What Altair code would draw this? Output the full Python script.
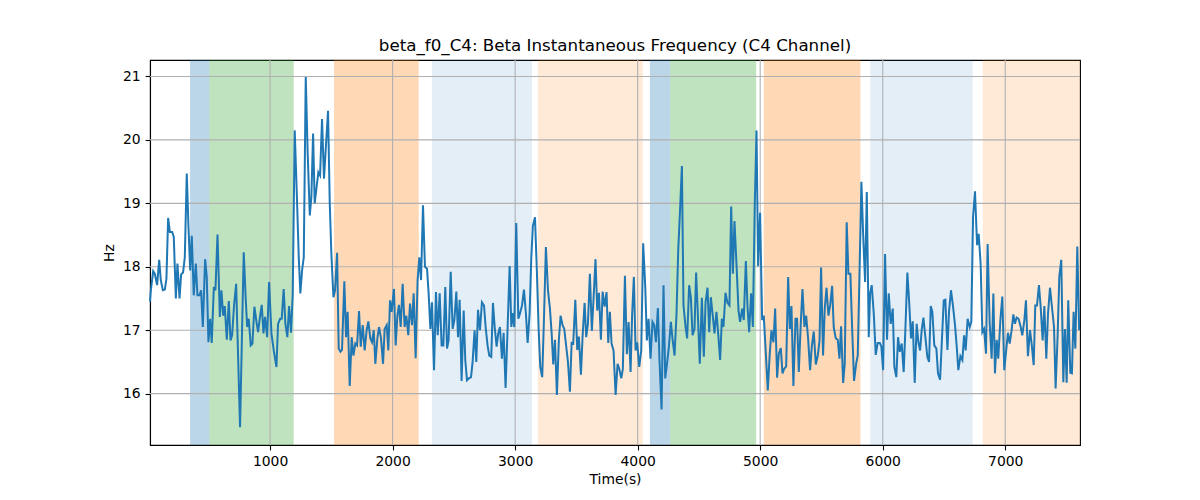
import altair as alt
import pandas as pd

# ---- line data: (time in s, frequency in Hz) ----
seg_a = [(20, 17.45), (27, 17.63), (46, 17.93), (59, 17.89), (78, 17.71), (95, 18.11), (108, 17.79), (125, 17.63),
         (141, 17.64), (154, 17.81), (168, 18.77), (182, 18.55), (201, 18.55), (214, 18.47), (231, 17.50), (244, 18.05),
         (261, 17.50), (274, 17.88), (290, 17.91), (304, 18.15), (320, 19.47), (334, 18.63), (348, 17.94), (361, 18.49),
         (377, 17.55), (394, 18.05), (407, 17.55), (424, 17.55), (437, 17.63), (451, 17.05), (470, 18.12), (483, 17.84),
         (497, 16.81), (511, 17.18), (524, 16.80), (541, 17.68), (554, 17.63), (571, 18.51), (590, 17.21), (603, 17.63),
         (617, 17.23), (630, 17.38), (647, 16.85), (663, 17.46), (677, 16.84), (690, 16.92), (706, 17.39), (723, 17.73),
         (739, 16.58), (755, 15.47), (772, 17.05), (785, 18.23), (799, 17.58), (813, 17.05), (826, 17.18), (842, 16.76),
         (856, 16.79), (872, 17.37), (889, 17.13), (902, 16.97), (919, 17.23), (932, 17.40), (946, 16.95), (959, 17.21),
         (976, 16.89), (992, 17.76)]
seg_b = [(1011, 16.95), (1030, 16.68), (1052, 16.42), (1065, 17.10), (1082, 17.18), (1095, 17.18), (1111, 17.65),
         (1125, 17.10), (1141, 16.89), (1155, 17.38), (1171, 16.96), (1185, 17.58), (1201, 20.15), (1218, 19.16),
         (1234, 18.15), (1247, 17.58), (1261, 17.94), (1275, 18.15), (1291, 20.99), (1307, 19.78), (1324, 18.81),
         (1337, 19.10), (1351, 20.10), (1364, 19.00), (1381, 19.28), (1394, 19.49), (1408, 19.44), (1424, 20.33),
         (1440, 19.39), (1457, 19.94), (1473, 20.46), (1487, 19.00), (1500, 18.21), (1517, 17.52), (1530, 17.63),
         (1547, 18.22), (1560, 16.71), (1574, 16.66), (1587, 16.69), (1606, 17.77), (1620, 16.89), (1633, 17.29),
         (1650, 16.12), (1666, 16.89), (1680, 16.60), (1696, 16.79), (1710, 16.76), (1726, 17.30), (1740, 16.74),
         (1756, 17.08), (1772, 16.68), (1788, 17.00), (1802, 17.14), (1818, 16.87), (1832, 16.81), (1846, 17.00),
         (1859, 16.47), (1876, 16.88), (1889, 17.05), (1905, 16.88), (1922, 16.47), (1935, 17.02), (1952, 17.08),
         (1965, 16.68), (1979, 17.47), (1992, 17.29)]
seg_c = [(2011, 17.65), (2025, 16.76), (2039, 17.23), (2052, 17.40), (2066, 17.05), (2082, 17.73), (2098, 17.05),
         (2112, 17.23), (2128, 16.92), (2142, 17.42), (2158, 17.08), (2172, 17.58), (2188, 16.56), (2204, 17.79),
         (2218, 18.15), (2232, 17.79), (2248, 18.97), (2264, 18.00), (2281, 17.97), (2294, 17.58), (2308, 17.02),
         (2321, 17.44), (2338, 16.37), (2354, 17.60), (2368, 16.92), (2384, 17.58), (2400, 16.76), (2414, 16.76),
         (2430, 17.68), (2444, 16.71), (2457, 16.84), (2474, 17.92), (2490, 17.02), (2504, 17.16), (2520, 17.61),
         (2534, 16.89), (2547, 17.48), (2563, 16.20), (2580, 17.31), (2593, 16.53), (2607, 16.21), (2623, 16.24),
         (2640, 16.26), (2653, 16.50), (2669, 17.00), (2683, 16.50), (2697, 17.32), (2713, 17.00), (2729, 17.44),
         (2746, 17.39), (2759, 17.05), (2775, 16.76), (2789, 16.60), (2805, 16.58), (2819, 17.43), (2833, 17.05),
         (2849, 16.74), (2862, 16.95), (2876, 17.05), (2892, 16.55), (2906, 16.96), (2922, 16.09), (2936, 16.89)]
seg_d = [(2955, 18.01), (2969, 17.05), (2979, 17.27), (2993, 17.05), (3009, 18.69), (3026, 17.18), (3039, 17.26),
         (3056, 17.39), (3072, 17.64), (3088, 17.26), (3102, 16.80), (3118, 17.26), (3132, 18.15), (3145, 18.65),
         (3162, 18.78), (3178, 17.89), (3192, 17.00), (3205, 16.42), (3221, 16.26), (3235, 17.16), (3251, 18.31),
         (3268, 17.63), (3284, 17.34), (3298, 16.95), (3311, 16.46), (3325, 16.85), (3341, 15.98), (3357, 16.85),
         (3371, 17.23), (3387, 17.08), (3401, 17.02), (3417, 16.74), (3431, 16.50), (3447, 16.03), (3461, 16.80),
         (3474, 16.79), (3491, 17.48), (3507, 16.69), (3520, 16.90), (3537, 16.30), (3550, 16.89), (3567, 17.43),
         (3580, 16.89), (3594, 17.10), (3610, 17.89), (3626, 16.99), (3640, 17.50), (3656, 18.12), (3670, 17.31),
         (3684, 17.59), (3700, 16.85), (3714, 17.61), (3730, 17.37), (3746, 17.60), (3760, 16.80), (3773, 17.29),
         (3787, 16.79), (3803, 16.68), (3820, 15.98), (3836, 16.47), (3850, 16.39), (3866, 16.24), (3879, 16.39),
         (3896, 17.86), (3912, 16.62), (3926, 17.13), (3942, 16.34)]
seg_e = [(3955, 17.26), (3969, 17.84), (3983, 16.68), (3996, 16.81), (4013, 16.42), (4029, 16.68), (4045, 18.37),
         (4062, 17.68), (4075, 16.84), (4089, 17.18), (4105, 16.55), (4121, 17.13), (4135, 17.08), (4149, 16.81),
         (4165, 17.35), (4178, 16.53), (4195, 15.75), (4211, 17.71), (4225, 16.24), (4241, 16.50), (4255, 16.74),
         (4271, 17.13), (4284, 16.87), (4301, 16.60), (4317, 17.26), (4331, 18.26), (4347, 18.94), (4361, 19.59),
         (4374, 17.39), (4391, 17.05), (4404, 16.87), (4420, 17.71), (4434, 17.52), (4448, 16.92), (4464, 17.02),
         (4477, 17.91), (4491, 17.26), (4507, 16.47), (4524, 17.51), (4540, 16.58), (4554, 17.44), (4570, 17.67),
         (4584, 16.97), (4597, 17.52), (4613, 17.23), (4627, 16.95), (4643, 17.29), (4657, 16.95), (4673, 16.53),
         (4687, 17.18), (4700, 17.05), (4717, 17.59), (4733, 17.43), (4749, 17.39), (4763, 18.95), (4777, 17.89),
         (4790, 18.72), (4807, 18.02), (4823, 17.31), (4836, 17.13), (4853, 17.34), (4866, 17.16), (4883, 18.09),
         (4896, 17.39), (4910, 16.97), (4926, 17.58)]
seg_f = [(4940, 17.05), (4956, 19.00), (4970, 20.15), (4983, 18.01), (4999, 18.85), (5016, 17.16), (5029, 17.23),
         (5046, 16.63), (5062, 16.05), (5078, 16.63), (5092, 17.00), (5108, 16.81), (5122, 17.34), (5138, 16.25),
         (5152, 16.63), (5168, 16.72), (5182, 16.32), (5195, 16.39), (5212, 16.43), (5228, 17.84), (5242, 17.02),
         (5255, 17.38), (5271, 16.12), (5288, 17.18), (5301, 17.18), (5315, 16.34), (5331, 17.10), (5345, 17.65),
         (5361, 17.05), (5375, 17.23), (5391, 16.87), (5407, 16.37), (5421, 16.74), (5437, 16.98), (5454, 16.46),
         (5470, 16.60), (5484, 16.83), (5497, 17.99), (5513, 16.60), (5527, 17.34), (5541, 17.67), (5557, 17.23),
         (5571, 17.39), (5587, 17.70), (5600, 17.05), (5617, 16.87), (5633, 16.85), (5647, 16.55), (5660, 17.06),
         (5677, 16.17), (5690, 16.47), (5706, 18.70), (5720, 17.89), (5736, 17.89), (5750, 17.05), (5766, 16.20),
         (5783, 16.47), (5796, 16.60), (5810, 17.84), (5826, 19.34), (5840, 18.52), (5856, 17.76), (5870, 19.18)]
seg_g = [(5886, 16.89), (5897, 17.58), (5910, 17.71), (5927, 17.26), (5943, 16.61), (5959, 16.80), (5976, 16.80),
         (5989, 16.74), (6003, 16.37), (6019, 18.20), (6035, 16.85), (6049, 17.58), (6065, 17.10), (6082, 17.34),
         (6095, 16.42), (6111, 16.26), (6125, 16.89), (6139, 16.66), (6155, 16.79), (6171, 16.34), (6185, 17.02),
         (6201, 17.91), (6215, 17.47), (6231, 16.87), (6245, 17.14), (6261, 16.17), (6277, 17.10), (6291, 16.81),
         (6305, 16.68), (6318, 17.00), (6332, 17.20), (6348, 16.89), (6364, 16.58), (6378, 16.50), (6392, 17.38),
         (6405, 17.29), (6421, 16.76), (6438, 16.71), (6451, 16.32), (6468, 16.22), (6481, 16.76), (6498, 17.47),
         (6511, 17.48), (6528, 16.69), (6541, 17.29), (6557, 17.63), (6574, 17.37), (6590, 17.08), (6604, 16.74),
         (6617, 16.37), (6634, 16.59), (6650, 16.53), (6664, 16.92), (6677, 16.68), (6693, 17.18), (6710, 17.05),
         (6723, 17.13), (6737, 18.78), (6753, 19.19), (6770, 18.34), (6783, 18.52), (6799, 18.05), (6813, 16.97),
         (6827, 17.02), (6843, 16.63), (6856, 18.36)]
seg_h = [(6873, 17.10), (6889, 16.55), (6903, 17.58), (6916, 16.32), (6930, 16.85), (6943, 16.55), (6960, 17.16),
         (6976, 17.53), (6992, 16.37), (7009, 16.71), (7022, 16.96), (7036, 16.79), (7052, 17.00), (7066, 17.25),
         (7079, 17.10), (7093, 17.20), (7109, 17.18), (7126, 17.05), (7139, 16.92), (7156, 17.16), (7169, 17.47),
         (7185, 16.59), (7202, 17.00), (7215, 16.79), (7232, 16.45), (7245, 17.39), (7259, 17.39), (7275, 17.71),
         (7289, 17.37), (7305, 16.84), (7319, 17.38), (7335, 16.55), (7349, 17.26), (7365, 17.67), (7381, 17.37),
         (7398, 17.05), (7411, 16.08), (7427, 16.89), (7441, 17.84), (7457, 18.11), (7474, 16.18), (7487, 17.02),
         (7501, 16.17), (7514, 17.47), (7531, 16.33), (7544, 16.32), (7558, 17.29), (7572, 16.71), (7588, 18.32),
         (7603, 17.00)]

# ---- shaded spans ----
band_start = [347, 505, 1522, 2321, 3186, 4100, 4265, 5029, 5899, 6816]
band_end = [505, 1193, 2213, 3137, 4042, 4265, 4967, 5818, 6734, 7610]
band_color = ["#1f77b4", "#2ca02c", "#ff7f0e", "#1f77b4", "#ff7f0e",
              "#1f77b4", "#2ca02c", "#ff7f0e", "#1f77b4", "#ff7f0e"]
band_alpha = [0.3, 0.3, 0.3, 0.12, 0.16, 0.3, 0.3, 0.3, 0.12, 0.16]

x_ticks = [1000, 2000, 3000, 4000, 5000, 6000, 7000]
y_ticks = [16, 17, 18, 19, 20, 21]
x_domain = [20, 7610]
y_domain = [15.19, 21.26]

title_text = "beta_f0_C4: Beta Instantaneous Frequency (C4 Channel)"

pts = seg_a + seg_b + seg_c + seg_d + seg_e + seg_f + seg_g + seg_h
line_df = pd.DataFrame(pts, columns=["t", "hz"])
bands_df = pd.DataFrame({"start": band_start, "end": band_end,
                         "color": band_color, "alpha": band_alpha})
xt_df = pd.DataFrame({"tick": x_ticks})
yt_df = pd.DataFrame({"tick": y_ticks})

xs = alt.Scale(domain=x_domain, nice=False, zero=False)
ys = alt.Scale(domain=y_domain, nice=False, zero=False)
ax_x = alt.Axis(title="Time(s)", values=x_ticks, format="d", titlePadding=4)
ax_y = alt.Axis(title="Hz", values=y_ticks, format="d", titlePadding=6)

bands = alt.Chart(bands_df).mark_rect().encode(
    x=alt.X("start:Q", scale=xs, axis=ax_x),
    x2="end:Q",
    color=alt.Color("color:N", scale=None),
    opacity=alt.Opacity("alpha:Q", scale=None),
)

xgrid = alt.Chart(xt_df).mark_rule(color="#b0b0b0", strokeWidth=1.1).encode(
    x=alt.X("tick:Q", scale=xs, axis=ax_x)
)
ygrid = alt.Chart(yt_df).mark_rule(color="#b0b0b0", strokeWidth=1.1).encode(
    y=alt.Y("tick:Q", scale=ys, axis=ax_y)
)

line = alt.Chart(line_df).mark_line(color="#1f77b4", strokeWidth=2).encode(
    x=alt.X("t:Q", scale=xs, axis=ax_x),
    y=alt.Y("hz:Q", scale=ys, axis=ax_y),
)

chart = alt.layer(bands, xgrid, ygrid, line).properties(
    width=930,
    height=385,
    padding={"left": 142, "top": 52, "right": 112, "bottom": 47},
    autosize=alt.AutoSizeParams(type="none"),
    title=alt.Title(title_text, font="DejaVu Sans", fontSize=16.7, fontWeight="normal",
                    color="black", anchor="middle", offset=8, baseline="alphabetic", dy=16),
).configure_axis(
    labelFont="DejaVu Sans", labelFontSize=13.9, labelColor="black",
    titleFont="DejaVu Sans", titleFontSize=13.9, titleFontWeight="normal", titleColor="black",
    tickColor="black", tickSize=4.9, tickWidth=1.1, labelPadding=4.9,
    domainColor="black", domainWidth=1.1, grid=False,
).configure_view(stroke="black", strokeWidth=1.1)

chart.save("out.html", embed_options={"renderer": "svg", "actions": False})
